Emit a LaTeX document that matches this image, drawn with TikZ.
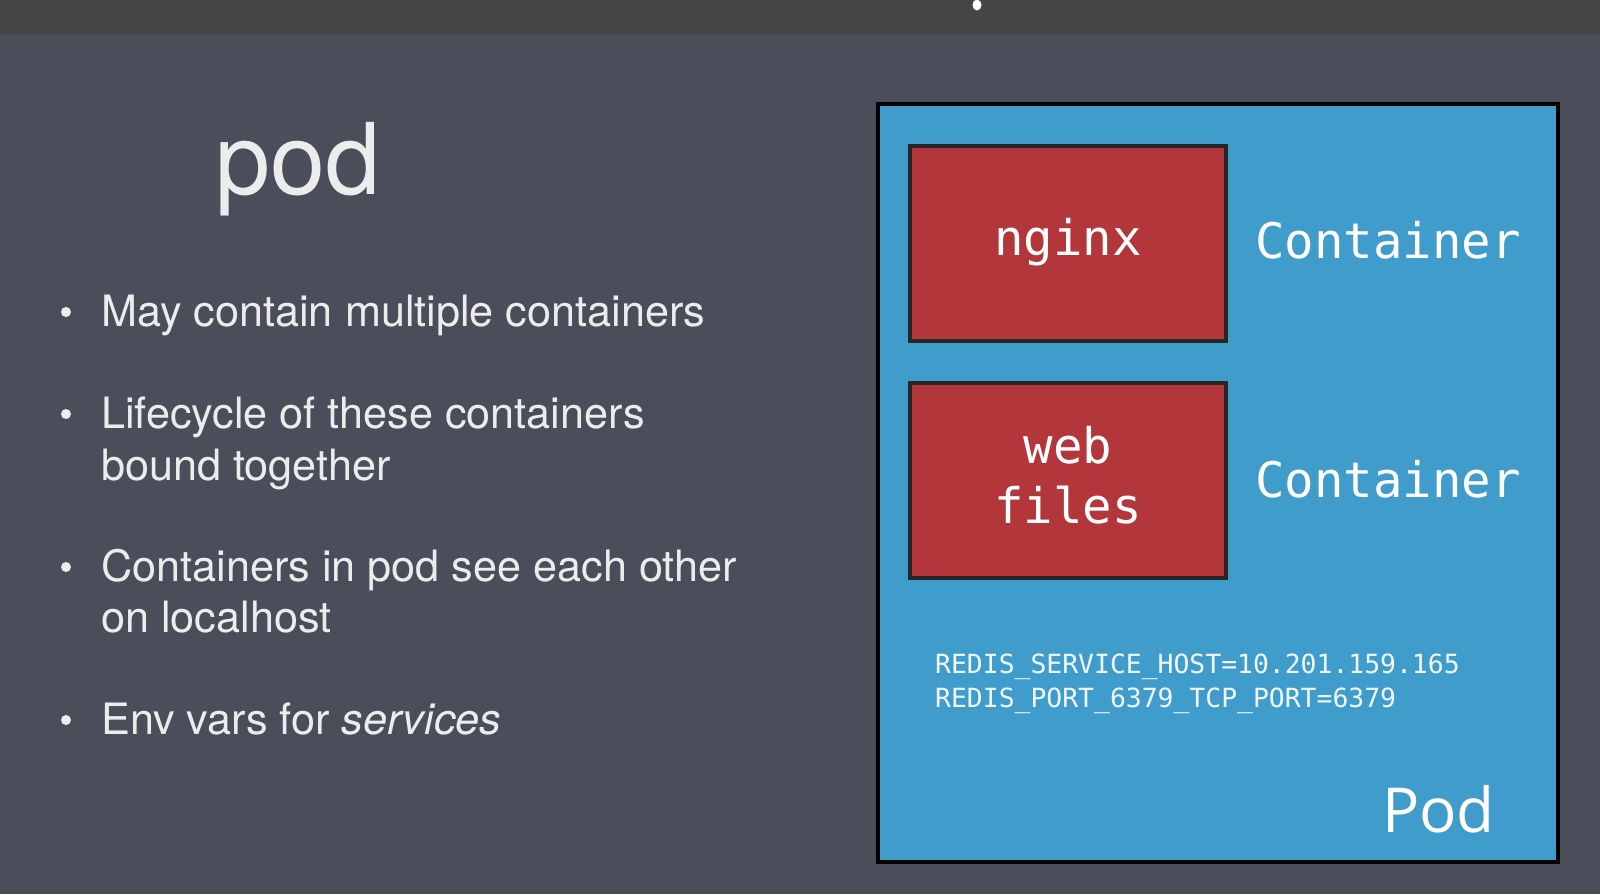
\documentclass[tikz,border=0pt]{standalone}
\usepackage{fontspec}
\usetikzlibrary{shapes.geometric}
\setmainfont{TeX Gyre Heros}
\newfontfamily\monof{DejaVu Sans Mono}
\newfontfamily\podf{Open Sans}
\definecolor{slate}{HTML}{4A4E5A}
\definecolor{topbar}{HTML}{444545}
\definecolor{podblue}{HTML}{409CCB}
\definecolor{cred}{HTML}{B3373A}
\definecolor{txt}{HTML}{ECECEC}
\begin{document}
\begin{tikzpicture}[x=1pt,y=-1pt,
  bullettext/.style={anchor=base west,inner sep=0pt,text=txt,font=\fontsize{43.2}{51}\selectfont},
  bulletdot/.style={circle,fill=txt,inner sep=0pt,minimum size=10pt},
  podbox/.style={draw=black,line width=4pt,fill=podblue,inner sep=0pt},
  cbox/.style={draw=black!85,line width=4pt,fill=cred,inner sep=0pt},
  ctext/.style={inner sep=0pt,text=white,align=center,font=\monof\fontsize{49}{60}\selectfont},
  clabel/.style={anchor=base west,inner sep=0pt,text=white,font=\monof\fontsize{49}{58}\selectfont},
  envtext/.style={anchor=base west,inner sep=0pt,text=white!92!podblue,font=\monof\fontsize{26.4}{34}\selectfont},
]
\useasboundingbox (0,0) rectangle (1600,894);
\fill[slate] (0,0) rectangle (1600,894);
\fill[topbar] (0,0) rectangle (1600,34);
\node[ellipse,fill=white,inner sep=0pt,minimum width=9pt,minimum height=11pt] (spot) at (977,5) {};

% title
\node[anchor=base west,inner sep=0pt,text=txt,font=\fontsize{99}{104}\selectfont] (title) at (215,194) {pod};

% bullets
\node[bulletdot] (b1) at (66,312) {};
\node[bullettext] (t1) at (101,326.5) {May contain multiple containers};
\node[bulletdot] (b2) at (66,414) {};
\node[bullettext] (t2) at (101,428.5) {Lifecycle of these containers};
\node[bullettext] (t2b) at (101,480) {bound together};
\node[bulletdot] (b3) at (66,567) {};
\node[bullettext] (t3) at (101,581.5) {Containers in pod see each other};
\node[bullettext] (t3b) at (101,632.5) {on localhost};
\node[bulletdot] (b4) at (66,720) {};
\node[bullettext] (t4) at (101,734.5) {Env vars for \textit{services}};

% pod
\node[podbox,minimum width=680pt,minimum height=758pt] (pod) at (1218,483) {};
\node[cbox,minimum width=316pt,minimum height=195pt] (nginx) at (1068,243.5) {};
\node[ctext] (nginxt) at (1068,242) {nginx};
\node[cbox,minimum width=316pt,minimum height=195pt] (web) at (1068,480) {};
\node[ctext] (webt) at (1068,475) {web\\files};
\node[clabel] (c1) at (1255,258) {Container};
\node[clabel] (c2) at (1255,497) {Container};
\node[envtext] (e1) at (935,673) {REDIS\_SERVICE\_HOST=10.201.159.165};
\node[envtext] (e2) at (935,707) {REDIS\_PORT\_6379\_TCP\_PORT=6379};
\node[anchor=base west,inner sep=0pt,text=white,font=\podf\fontsize{62}{70}\selectfont] (podlabel) at (1382,832) {Pod};
\end{tikzpicture}
\end{document}
